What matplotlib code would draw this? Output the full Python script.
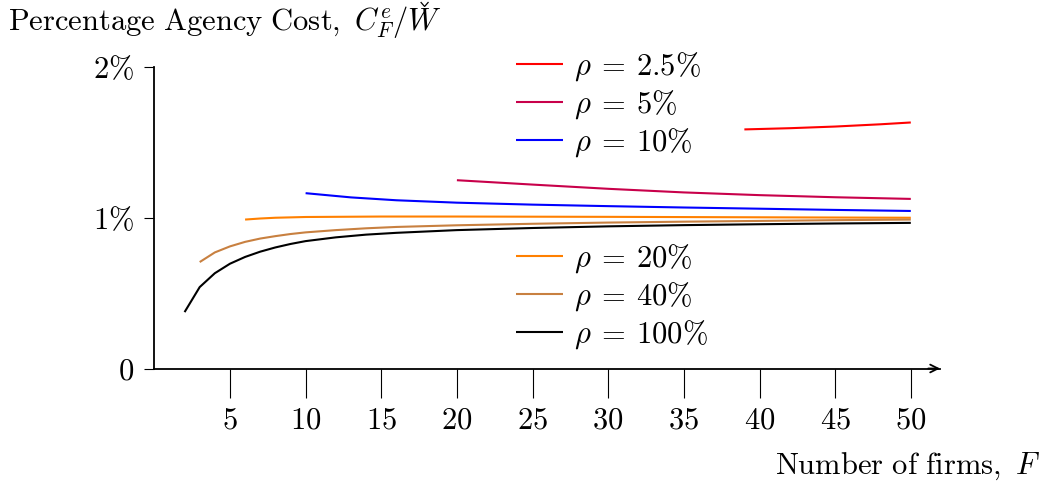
import matplotlib
matplotlib.use("Agg")
import matplotlib.pyplot as plt
from matplotlib.lines import Line2D

plt.rcParams["mathtext.fontset"] = "cm"
plt.rcParams["font.family"] = "serif"
plt.rcParams["font.serif"] = ["cmr10", "DejaVu Serif"]
plt.rcParams["axes.unicode_minus"] = False

FS = 22

# Percentage agency cost (in %) against the number of firms F, per rho
f_r025 = [39, 42, 45, 48, 50]
c_r025 = [1.586, 1.594, 1.605, 1.620, 1.632]

f_r05 = [20, 25, 30, 35, 40, 45, 50]
c_r05 = [1.249, 1.220, 1.192, 1.168, 1.150, 1.136, 1.125]

f_r10 = [10, 13, 16, 20, 25, 30, 35, 40, 45, 50]
c_r10 = [1.163, 1.135, 1.116, 1.100, 1.087, 1.077, 1.068, 1.060, 1.052, 1.045]

f_r20 = [6, 7, 8, 10, 15, 20, 30, 40, 50]
c_r20 = [0.988, 0.995, 1.000, 1.005, 1.008, 1.008, 1.006, 1.003, 1.000]

f_r40 = [3, 4, 5, 6, 7, 8, 9, 10, 12, 14, 16, 20, 25, 30, 35, 40, 45, 50]
c_r40 = [0.706, 0.770, 0.810, 0.840, 0.862, 0.878, 0.892, 0.903, 0.918,
         0.930, 0.939, 0.950, 0.960, 0.968, 0.974, 0.979, 0.984, 0.988]

f_r100 = [2, 3, 4, 5, 6, 7, 8, 9, 10, 12, 14, 16, 20, 25, 30, 35, 40, 45, 50]
c_r100 = [0.374, 0.540, 0.632, 0.695, 0.740, 0.775, 0.803, 0.826, 0.845,
          0.870, 0.888, 0.900, 0.918, 0.932, 0.943, 0.951, 0.957, 0.962, 0.966]

series_labels = [r"$\rho\:=\:2.5\%$", r"$\rho\:=\:5\%$", r"$\rho\:=\:10\%$",
                 r"$\rho\:=\:20\%$", r"$\rho\:=\:40\%$", r"$\rho\:=\:100\%$"]
series_colors = ["#ff0000", "#c8004a", "#0000ff", "#ff8000", "#c88040", "#000000"]

x_ticks = [5, 10, 15, 20, 25, 30, 35, 40, 45, 50]
y_ticks = [0, 1, 2]
y_tick_labels = [r"$0$", r"$1\%$", r"$2\%$"]

W, H = 1049, 487
fig = plt.figure(figsize=(W / 100, H / 100), dpi=100)
x0, x1 = 154.3, 940.0
y0, y1 = 368.5, 67.0
ax = fig.add_axes([x0 / W, (H - y0) / H, (x1 - x0) / W, (y0 - y1) / H])

data = [(f_r025, c_r025), (f_r05, c_r05), (f_r10, c_r10),
        (f_r20, c_r20), (f_r40, c_r40), (f_r100, c_r100)]
lines = []
for (fx, cy), lab, col in zip(data, series_labels, series_colors):
    ln, = ax.plot(fx, cy, color=col, lw=1.5, label=lab, solid_capstyle="butt")
    lines.append(ln)

ax.set_xlim(0, (x1 - x0) / 15.13)
ax.set_ylim(0, 2)

for s in ["top", "right"]:
    ax.spines[s].set_visible(False)
ax.spines["left"].set_linewidth(1.3)
ax.spines["bottom"].set_linewidth(1.3)

ax.set_xticks(x_ticks)
ax.set_xticklabels([rf"${v}$" for v in x_ticks], fontsize=FS)
ax.set_yticks(y_ticks)
ax.set_yticklabels(y_tick_labels, fontsize=FS)
ax.tick_params(axis="x", direction="out", length=21, width=0.8, pad=7)
ax.tick_params(axis="y", direction="out", length=7.5, width=0.8, pad=7)

# arrow head on the horizontal axis
ax.annotate("", xy=(1.0, 0), xycoords="axes fraction",
            xytext=(0.985, 0), textcoords="axes fraction",
            arrowprops=dict(arrowstyle="->", lw=1.3, color="black",
                            mutation_scale=14, shrinkA=0, shrinkB=0),
            annotation_clip=False)

title = fig.text(8 / W, 1 - 22 / H,
                 r"$\mathrm{Percentage\ Agency\ Cost,}\ C_F^e/W$",
                 fontsize=FS, ha="left", va="center")
# caron accent over the final W
renderer = fig.canvas.get_renderer()
bb = title.get_window_extent(renderer)
cx = bb.x1 - 17
caron = Line2D([(cx - 3.5) / W, cx / W, (cx + 3.5) / W],
               [1 - 2.5 / H, 1 - 6.5 / H, 1 - 2.5 / H],
               transform=fig.transFigure, color="black", lw=0.9,
               solid_joinstyle="miter")
fig.add_artist(caron)

fig.text(1040 / W, 1 - 466 / H, r"$\mathrm{Number\ of\ firms,}\ F$",
         fontsize=FS, ha="right", va="center")

leg_kw = dict(frameon=False, fontsize=FS, handlelength=1.55, handletextpad=0.35,
              labelspacing=0.17, borderpad=0, borderaxespad=0,
              bbox_transform=fig.transFigure, loc="upper left")
leg1 = ax.legend(handles=lines[:3], bbox_to_anchor=(516 / W, 1 - 50 / H), **leg_kw)
ax.add_artist(leg1)
ax.legend(handles=lines[3:], bbox_to_anchor=(516 / W, 1 - 242 / H), **leg_kw)

fig.savefig("out.png", dpi=100)
